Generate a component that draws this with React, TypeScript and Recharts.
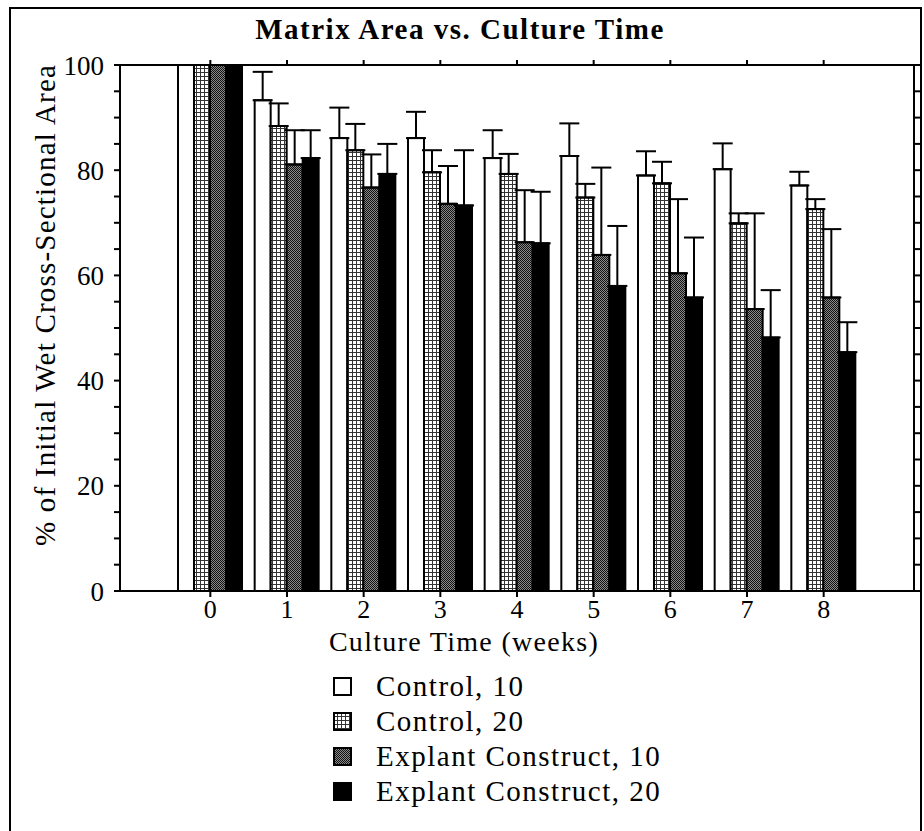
import React from 'react';
import { BarChart, Bar, XAxis, YAxis, ErrorBar, Legend } from 'recharts';

const weeks = ['0', '1', '2', '3', '4', '5', '6', '7', '8'];
const control10 = [100, 93.3, 86.1, 86.1, 82.3, 82.7, 79.0, 80.2, 77.1];
const control10Err = [0, 5.4, 5.8, 5.0, 5.3, 6.2, 4.6, 4.9, 2.6];
const control20 = [100, 88.4, 83.8, 79.6, 79.3, 74.8, 77.5, 69.9, 72.6];
const control20Err = [0, 4.3, 5.0, 4.2, 3.8, 2.6, 4.1, 1.9, 1.9];
const explant10 = [100, 81.1, 76.7, 73.6, 66.3, 63.9, 60.4, 53.6, 55.8];
const explant10Err = [0, 6.5, 6.3, 7.2, 9.9, 16.6, 14.1, 18.2, 13.0];
const explant20 = [100, 82.3, 79.3, 73.3, 66.1, 58.0, 55.8, 48.2, 45.4];
const explant20Err = [0, 5.3, 5.7, 10.5, 9.8, 11.4, 11.4, 9.0, 5.7];

const seriesNames = ['Control, 10', 'Control, 20', 'Explant Construct, 10', 'Explant Construct, 20'];
const yTicks = [0, 5, 10, 15, 20, 25, 30, 35, 40, 45, 50, 55, 60, 65, 70, 75, 80, 85, 90, 95, 100];
const yLabelTicks = [0, 20, 40, 60, 80, 100];

const title = 'Matrix Area vs. Culture Time';
const xTitle = 'Culture Time (weeks)';
const yTitle = '% of Initial Wet Cross-Sectional Area';

const data = weeks.map((w, i) => ({
  week: w,
  c10: control10[i],
  c10e: [0, control10Err[i]],
  c20: control20[i],
  c20e: [0, control20Err[i]],
  e10: explant10[i],
  e10e: [0, explant10Err[i]],
  e20: explant20[i],
  e20e: [0, explant20Err[i]],
}));

const FONT = '"Liberation Serif", "Times New Roman", Times, serif';
const fills = ['#ffffff', 'url(#pDot)', 'url(#pChk)', '#000000'];
const keys = ['c10', 'c20', 'e10', 'e20'];

const YLabel = () => (
  <text
    x={45}
    y={305}
    transform="rotate(-90 45 305)"
    textAnchor="middle"
    dominantBaseline="central"
    fontFamily={FONT}
    fontSize={29}
    letterSpacing={1.2}
    fill="#000"
  >
    {yTitle}
  </text>
);

const XLabel = () => (
  <text
    x={464}
    y={641}
    textAnchor="middle"
    dominantBaseline="central"
    fontFamily={FONT}
    fontSize={28}
    letterSpacing={1.3}
    fill="#000"
  >
    {xTitle}
  </text>
);

const renderLegend = () => (
  <div style={{ fontFamily: FONT, fontSize: 29, letterSpacing: 1.5, color: '#000', lineHeight: '35px' }}>
    {seriesNames.map((n, i) => (
      <div key={n} style={{ display: 'flex', alignItems: 'center', height: 35 }}>
        <svg width={20} height={20} style={{ marginRight: 23, flex: 'none' }}>
          <rect x={1} y={1} width={17} height={17} fill={fills[i]} stroke="#000" strokeWidth={2} />
        </svg>
        <span>{n}</span>
      </div>
    ))}
  </div>
);

export default function App() {
  return (
    <div style={{ position: 'absolute', left: 0, top: 0, width: 924, height: 831, background: '#fff', overflow: 'hidden' }}>
      <div
        style={{
          position: 'absolute',
          left: 9,
          top: 7,
          width: 913,
          height: 840,
          border: '2px solid #000',
          boxSizing: 'border-box',
        }}
      />
      <div
        style={{
          position: 'absolute',
          left: 0,
          top: 12,
          width: 920,
          textAlign: 'center',
          fontFamily: FONT,
          fontWeight: 'bold',
          fontSize: 29,
          letterSpacing: 1.5,
          lineHeight: '34px',
          color: '#000',
        }}
      >
        {title}
      </div>
      <div style={{ position: 'absolute', left: 0, top: 0 }}>
        <BarChart
          width={924}
          height={831}
          data={data}
          margin={{ top: 64, right: 9, bottom: 239, left: 119 }}
          barGap={0}
          barSize={16}
        >
          <defs>
            <pattern id="pDot" width="4" height="4" patternUnits="userSpaceOnUse">
              <rect width="4" height="4" fill="#ffffff" />
              <rect width="4" height="1" fill="#333" />
              <rect width="1" height="4" fill="#333" />
            </pattern>
            <pattern id="pChk" width="2" height="2" patternUnits="userSpaceOnUse">
              <rect width="2" height="2" fill="#8a8a8a" />
              <rect width="1" height="1" fill="#111" />
              <rect x="1" y="1" width="1" height="1" fill="#111" />
            </pattern>
          </defs>
          <XAxis
            xAxisId="bottom"
            dataKey="week"
            height={1}
            padding={{ left: 52, right: 52 }}
            axisLine={{ stroke: '#000', strokeWidth: 2 }}
            tickLine={{ stroke: '#000', strokeWidth: 2 }}
            tickSize={6}
            tickMargin={3}
            tick={{ fill: '#000', fontSize: 26, fontFamily: FONT }}
            interval={0}
            label={<XLabel />}
          />
          <XAxis
            xAxisId="top"
            orientation="top"
            dataKey="week"
            height={1}
            padding={{ left: 52, right: 52 }}
            axisLine={{ stroke: '#000', strokeWidth: 2 }}
            tickLine={{ stroke: '#000', strokeWidth: 2 }}
            tickSize={5}
            tickFormatter={() => ''}
            interval={0}
          />
          <YAxis
            yAxisId="left"
            width={1}
            domain={[0, 100]}
            ticks={yTicks}
            interval={0}
            allowDataOverflow
            axisLine={{ stroke: '#000', strokeWidth: 2 }}
            tickLine={{ stroke: '#000', strokeWidth: 2 }}
            tickSize={6}
            tickMargin={10}
            tickFormatter={(v: number) => (yLabelTicks.includes(v) ? String(v) : '')}
            tick={{ fill: '#000', fontSize: 27, fontFamily: FONT }}
            label={<YLabel />}
          />
          <YAxis
            yAxisId="right"
            orientation="right"
            width={1}
            domain={[0, 100]}
            ticks={yTicks}
            interval={0}
            allowDataOverflow
            axisLine={{ stroke: '#000', strokeWidth: 2 }}
            tickLine={{ stroke: '#000', strokeWidth: 2 }}
            tickSize={6}
            tickFormatter={() => ''}
          />
          {keys.map((k, i) => (
            <Bar
              key={k}
              dataKey={k}
              name={seriesNames[i]}
              xAxisId="bottom"
              yAxisId="left"
              fill={fills[i]}
              stroke="#000"
              strokeWidth={2}
              isAnimationActive={false}
            >
              <ErrorBar dataKey={k + 'e'} width={10} stroke="#000" strokeWidth={2} direction="y" />
            </Bar>
          ))}
          <Legend
            layout="horizontal"
            verticalAlign="middle"
            align="center"
            content={renderLegend}
            wrapperStyle={{ position: 'absolute', left: 333, top: 669, width: 460 }}
          />
        </BarChart>
      </div>
    </div>
  );
}
